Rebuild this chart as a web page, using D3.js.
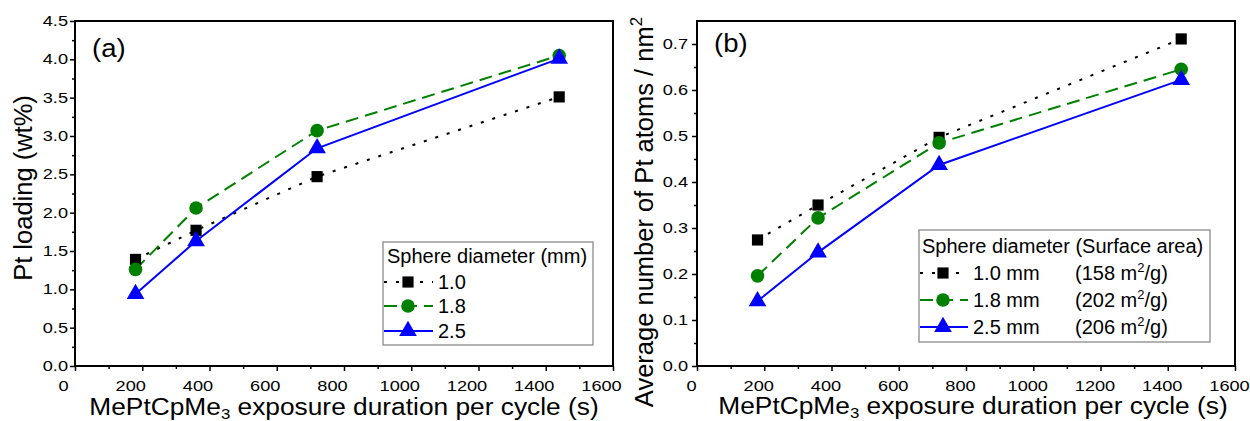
<!DOCTYPE html>
<html>
<head>
<meta charset="utf-8">
<script src="https://cdn.jsdelivr.net/npm/d3@7"></script>
<style>
  body { margin: 0; background: #fff; }
  svg text { font-family: "Liberation Sans", Arial, sans-serif; fill: #000; }
</style>
</head>
<body>
<svg id="chart" width="1250" height="421"></svg>
<script>
// exposure duration per cycle (s)
const exposure = [180, 360, 720, 1440];

// (a) Pt loading (wt%)
const loading10 = [1.39, 1.77, 2.47, 3.51];
const loading18 = [1.26, 2.06, 3.07, 4.05];
const loading25 = [0.94, 1.63, 2.84, 4.01];

// (b) Pt atoms / nm2
const density10 = [0.274, 0.350, 0.497, 0.711];
const density18 = [0.196, 0.322, 0.485, 0.645];
const density25 = [0.141, 0.247, 0.437, 0.622];

const sizeLabels = ["1.0", "1.8", "2.5"];
const areaLabels = ["158", "202", "206"];

const xTicks = [0, 200, 400, 600, 800, 1000, 1200, 1400, 1600];
const yTicksA = [0, 0.5, 1, 1.5, 2, 2.5, 3, 3.5, 4, 4.5];
const yTicksB = [0, 0.1, 0.2, 0.3, 0.4, 0.5, 0.6, 0.7];

const styles = [
    { color: "#000000", dash: "3,9", shape: d3.symbolSquare, size: 125 },
    { color: "#008000", dash: "13,7", shape: d3.symbolCircle, size: 145 },
    { color: "#0000ff", dash: null, shape: d3.symbolTriangle, size: 135 }
];

const svg = d3.select("#chart");

// stretch text horizontally (the reference glyphs are wider than normal)
function stretch(sel, sx, dx) {
    sel.each(function () {
        let t = d3.select(this);
        let x = (+t.attr("x") || 0) + (dx || 0);
        let y = +t.attr("y") || 0;
        t.attr("transform", "translate(" + x + "," + y + ") scale(" + sx + ",1)")
            .attr("x", 0).attr("y", 0);
    });
}

function drawPanel(p) {
    let xScale = d3.scaleLinear().domain([0, 1600]).range([p.left, p.right]);
    let yScale = d3.scaleLinear().domain([0, p.yMax]).range([p.bottom, p.top]);

    let g = svg.append("g");

    // minor ticks
    g.append("g")
        .attr("transform", "translate(0," + p.bottom + ")")
        .call(d3.axisBottom(xScale).tickValues(d3.range(100, 1600, 200)).tickSize(3).tickFormat(""))
        .call(a => a.select(".domain").remove())
        .selectAll("line").attr("stroke-width", 1.5);
    g.append("g")
        .attr("transform", "translate(" + p.left + ",0)")
        .call(d3.axisLeft(yScale).tickValues(p.minor).tickSize(3).tickFormat(""))
        .call(a => a.select(".domain").remove())
        .selectAll("line").attr("stroke-width", 1.5);

    // major ticks
    let xa = g.append("g")
        .attr("transform", "translate(0," + p.bottom + ")")
        .call(d3.axisBottom(xScale).tickValues(xTicks).tickSize(5).tickPadding(10).tickFormat(d3.format("d")));
    xa.select(".domain").remove();
    xa.selectAll("line").attr("stroke-width", 1.5);
    xa.selectAll("text").attr("font-size", 14).attr("font-family", null);
    stretch(xa.selectAll("text"), 1.3, p.xLabelShift);

    let ya = g.append("g")
        .attr("transform", "translate(" + p.left + ",0)")
        .call(d3.axisLeft(yScale).tickValues(p.yTicks).tickSize(5).tickPadding(p.yPad).tickFormat(d3.format(".1f")));
    ya.select(".domain").remove();
    ya.selectAll("line").attr("stroke-width", 1.5);
    ya.selectAll("text").attr("font-size", 14).attr("font-family", null);
    stretch(ya.selectAll("text"), 1.3, 0);

    // frame
    g.append("rect")
        .attr("x", p.left).attr("y", p.top)
        .attr("width", p.right - p.left).attr("height", p.bottom - p.top)
        .attr("fill", "none").attr("stroke", "#000").attr("stroke-width", 2);

    // series
    let line = d3.line()
        .x((d, i) => xScale(exposure[i]))
        .y(d => yScale(d));

    p.series.forEach(function (vals, k) {
        let s = styles[k];
        g.append("path")
            .datum(vals)
            .attr("fill", "none")
            .attr("stroke", s.color)
            .attr("stroke-width", 2)
            .attr("stroke-dasharray", s.dash)
            .attr("d", line);
    });
    p.series.forEach(function (vals, k) {
        let s = styles[k];
        g.selectAll(null)
            .data(vals)
            .enter().append("path")
            .attr("fill", s.color)
            .attr("d", d3.symbol().type(s.shape).size(s.size))
            .attr("transform", (d, i) => "translate(" + xScale(exposure[i]) + "," + yScale(d) + ")");
    });

    // panel letter
    let lab = g.append("text")
        .attr("x", p.left + 17).attr("y", p.letterY)
        .attr("font-size", 25)
        .text(p.letter);
    stretch(lab, 1.1, 0);

    // x title
    let xt = g.append("text")
        .attr("x", (p.left + p.right) / 2 + p.xTitleShift).attr("y", p.xTitleY)
        .attr("font-size", 23.5)
        .attr("text-anchor", "middle");
    xt.append("tspan").text("MePtCpMe");
    xt.append("tspan").attr("font-size", 15).attr("dy", 4).text("3");
    xt.append("tspan").attr("dy", -4).text(" exposure duration per cycle (s)");
    stretch(xt, 1.12, 0);

    // y title
    let yt = g.append("text")
        .attr("transform", "translate(" + p.yTitleX + "," + p.yTitleMid + ") rotate(-90)")
        .attr("font-size", 25.5)
        .attr("text-anchor", "middle");
    p.yTitle(yt);

    // legend
    let L = p.legend;
    let lg = g.append("g");
    lg.append("rect")
        .attr("x", L.x0).attr("y", L.y0)
        .attr("width", L.x1 - L.x0).attr("height", L.y1 - L.y0)
        .attr("fill", "#fff").attr("stroke", "#808080").attr("stroke-width", 1.2);
    lg.append("text")
        .attr("x", L.titleX).attr("y", L.titleY)
        .attr("font-size", 20)
        .text(L.title);
    styles.forEach(function (s, k) {
        let y = L.rowY[k];
        lg.append("line")
            .attr("x1", L.x0 + 1).attr("x2", L.lineEnd)
            .attr("y1", y).attr("y2", y)
            .attr("stroke", s.color).attr("stroke-width", 2)
            .attr("stroke-dasharray", s.dash);
        lg.append("path")
            .attr("fill", s.color)
            .attr("d", d3.symbol().type(s.shape).size(s.size))
            .attr("transform", "translate(" + L.markX + "," + y + ")");
        L.rowText(lg, k, y);
    });
}

drawPanel({
    left: 75, right: 613, top: 21, bottom: 366, yMax: 4.5,
    yTicks: yTicksA, minor: d3.range(0.25, 4.5, 0.5), yPad: 2,
    xLabelShift: -12,
    series: [loading10, loading18, loading25],
    letter: "(a)", letterY: 57,
    xTitleShift: 0, xTitleY: 415,
    yTitleX: 32, yTitleMid: 188,
    yTitle: t => t.text("Pt loading (wt%)"),
    legend: {
        x0: 383, x1: 593, y0: 242, y1: 345,
        title: "Sphere diameter (mm)", titleX: 387, titleY: 263,
        rowY: [282, 306, 331], lineEnd: 433, markX: 408,
        rowText: function (lg, k, y) {
            lg.append("text").attr("x", 438).attr("y", y + 7)
                .attr("font-size", 20).text(sizeLabels[k]);
        }
    }
});

drawPanel({
    left: 697, right: 1235, top: 21, bottom: 366, yMax: 0.75,
    yTicks: yTicksB, minor: d3.range(0.05, 0.75, 0.1), yPad: 4,
    xLabelShift: -6,
    series: [density10, density18, density25],
    letter: "(b)", letterY: 52,
    xTitleShift: 7, xTitleY: 414,
    yTitleX: 653, yTitleMid: 212,
    yTitle: function (t) {
        t.append("tspan").text("Average number of Pt atoms / nm");
        t.append("tspan").attr("font-size", 17).attr("dy", -11).text("2");
    },
    legend: {
        x0: 919, x1: 1210, y0: 230, y1: 342,
        title: "Sphere diameter (Surface area)", titleX: 922, titleY: 253,
        rowY: [273, 300, 327], lineEnd: 968, markX: 943,
        rowText: function (lg, k, y) {
            lg.append("text").attr("x", 973).attr("y", y + 7)
                .attr("font-size", 20).text(sizeLabels[k] + " mm");
            let t = lg.append("text").attr("x", 1075).attr("y", y + 7)
                .attr("font-size", 20);
            t.append("tspan").text("(" + areaLabels[k] + " m");
            t.append("tspan").attr("font-size", 13).attr("dy", -8).text("2");
            t.append("tspan").attr("dy", 8).text("/g)");
        }
    }
});
</script>
</body>
</html>
